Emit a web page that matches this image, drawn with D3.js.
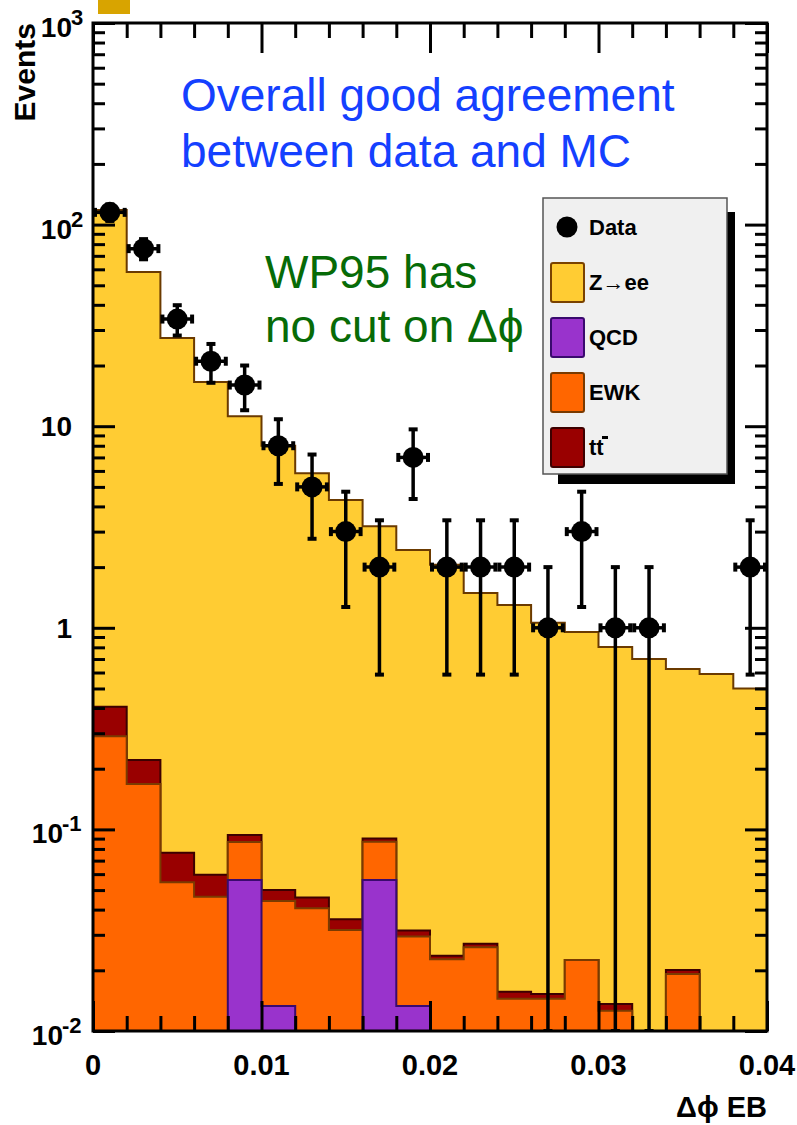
<!DOCTYPE html>
<html lang="en">
<head>
<meta charset="utf-8">
<title>Delta phi EB</title>
<script src="https://cdn.jsdelivr.net/npm/d3@7"></script>
<style>
  body { margin: 0; background: #fff; }
  svg text { font-family: "Liberation Sans", Arial, Helvetica, sans-serif; }
  .axis line { stroke: #000; stroke-width: 3px; }
  .axis path { display: none; }
  .lab { font-weight: bold; fill: #000; }
</style>
</head>
<body>
<script>
// bins of 0.002 from 0 to 0.04
var binWidth = 0.002;
var dataCounts = [115, 76, 34, 21, 16, 8, 5, 3, 2, 7, 2, 2, 2, 1, 3, 1, 1, 0, 0, 2];
var zee   = [117.6, 58, 27.3, 16.5, 11.1, 7.95, 5.8, 4.27, 3.1, 2.4, 2.03, 1.46, 1.28, 1.045, 0.93, 0.79, 0.70, 0.605, 0.59, 0.50];
var ttbar = [0.116, 0.053, 0.0219, 0.0133, 0.0072, 0.0059, 0.0054, 0.0041, 0.0031, 0.0021, 0.0009, 0.0011, 0.0012, 0.0008, 0, 0.001, 0, 0.0009, 0, 0];
var ewk   = [0.29, 0.168, 0.0547, 0.0463, 0.0305, 0.0308, 0.0406, 0.0317, 0.0308, 0.0161, 0.0227, 0.026, 0.01445, 0.01445, 0.0225, 0.0126, 0, 0.0192, 0, 0];
var qcd   = [0, 0, 0, 0, 0.0561, 0.0133, 0, 0, 0.0561, 0.0133, 0, 0, 0, 0, 0, 0, 0, 0, 0, 0];

var xMajor = [0, 0.01, 0.02, 0.03, 0.04];
var xLabels = ["0", "0.01", "0.02", "0.03", "0.04"];
var yMajor = [1e-2, 1e-1, 1, 10, 100, 1000];
var yLabels = [["10", "-2"], ["10", "-1"], ["1", ""], ["10", ""], ["10", "2"], ["10", "3"]];

var legendNames = ["Data", "Z\u2192ee", "QCD", "EWK", "tt"];
var legendFill = [null, "#ffcc33", "#9933cc", "#ff6600", "#990000"];
var legendLine = [null, "#7a4200", "#3a0a6e", "#7a3a00", "#3d0000"];

var W = 797, H = 1125;
var pLeft = 93, pRight = 767, pTop = 23, pBottom = 1031;

var svg = d3.select("body").append("svg").attr("width", W).attr("height", H);

var x = d3.scaleLinear().domain([0, 0.04]).range([pLeft, pRight]);
var y = d3.scaleLog().domain([0.01, 1000]).range([pBottom, pTop]);

svg.append("clipPath").attr("id", "plot")
  .append("rect").attr("x", pLeft).attr("y", pTop)
  .attr("width", pRight - pLeft).attr("height", pBottom - pTop);

// small stray box at the top
svg.append("rect").attr("x", 98).attr("y", 0).attr("width", 32).attr("height", 14).attr("fill", "#d8a400");

// cumulative stack: qcd, +ewk, +ttbar, +zee
var cQcd = qcd.slice();
var cEwk = cQcd.map(function(d, i) { return d + ewk[i]; });
var cTt = cEwk.map(function(d, i) { return d + ttbar[i]; });
var cZee = cTt.map(function(d, i) { return d + zee[i]; });

function stepPath(vals) {
  var p = "M" + x(0) + "," + (pBottom + 10);
  vals.forEach(function(v, i) {
    var yy = y(Math.max(v, 1e-5));
    p += "L" + x(i * binWidth) + "," + yy + "L" + x((i + 1) * binWidth) + "," + yy;
  });
  return p + "L" + x(0.04) + "," + (pBottom + 10) + "Z";
}

var stack = [
  {vals: cZee, fill: "#ffcc33", line: "#6b3a00"},
  {vals: cTt, fill: "#990000", line: "#3d0000"},
  {vals: cEwk, fill: "#ff6600", line: "#7a3a00"},
  {vals: cQcd, fill: "#9933cc", line: "#3a0a6e"}
];

var gPlot = svg.append("g").attr("clip-path", "url(#plot)");
gPlot.selectAll("path.h")
  .data(stack)
  .enter()
  .append("path")
  .attr("class", "h")
  .attr("d", function(d) { return stepPath(d.vals); })
  .attr("fill", function(d) { return d.fill; })
  .attr("stroke", function(d) { return d.line; })
  .attr("stroke-width", 2);

// data points with errors
var pts = dataCounts.map(function(n, i) { return {n: n, i: i}; })
  .filter(function(d) { return d.n > 0; });

var gData = gPlot.selectAll("g.pt").data(pts).enter().append("g").attr("class", "pt");
gData.each(function(d) {
  var g = d3.select(this);
  var cx = x((d.i + 0.5) * binWidth);
  var cy = y(d.n);
  var hi = y(d.n + Math.sqrt(d.n));
  var lo = d.n - Math.sqrt(d.n) > 0.01 ? y(d.n - Math.sqrt(d.n)) : pBottom;
  var x0 = x(d.i * binWidth), x1 = x((d.i + 1) * binWidth);
  g.append("line").attr("x1", cx).attr("x2", cx).attr("y1", hi).attr("y2", lo)
    .attr("stroke", "#000").attr("stroke-width", 3.5);
  g.append("line").attr("x1", x0 + 1).attr("x2", x1 - 1).attr("y1", cy).attr("y2", cy)
    .attr("stroke", "#000").attr("stroke-width", 3.5);
  [hi, lo].forEach(function(v) {
    g.append("line").attr("x1", cx - 4.5).attr("x2", cx + 4.5).attr("y1", v).attr("y2", v)
      .attr("stroke", "#000").attr("stroke-width", 4);
  });
  [x0 + 2, x1 - 2].forEach(function(v) {
    g.append("line").attr("x1", v).attr("x2", v).attr("y1", cy - 4.5).attr("y2", cy + 4.5)
      .attr("stroke", "#000").attr("stroke-width", 4);
  });
  g.append("circle").attr("cx", cx).attr("cy", cy).attr("r", 10.5).attr("fill", "#000");
});

// axes ticks (inside the frame on all four sides)
var xMinor = d3.range(0, 21).map(function(i) { return i * binWidth; })
  .filter(function(v) { return Math.abs(v / 0.01 - Math.round(v / 0.01)) > 1e-6; });
var yMinor = [];
[-2, -1, 0, 1, 2].forEach(function(k) {
  for (var m = 2; m <= 9; m++) yMinor.push(m * Math.pow(10, k));
});

function addAxis(gen, tr) {
  svg.append("g").attr("class", "axis").attr("transform", tr).call(gen)
    .selectAll("text").remove();
}
addAxis(d3.axisBottom(x).tickValues(xMajor).tickSize(-30), "translate(0," + pBottom + ")");
addAxis(d3.axisBottom(x).tickValues(xMinor).tickSize(-15), "translate(0," + pBottom + ")");
addAxis(d3.axisTop(x).tickValues(xMajor).tickSize(-30), "translate(0," + pTop + ")");
addAxis(d3.axisTop(x).tickValues(xMinor).tickSize(-15), "translate(0," + pTop + ")");
addAxis(d3.axisLeft(y).tickValues(yMajor).tickSize(-22), "translate(" + pLeft + ",0)");
addAxis(d3.axisLeft(y).tickValues(yMinor).tickSize(-12), "translate(" + pLeft + ",0)");
addAxis(d3.axisRight(y).tickValues(yMajor).tickSize(-22), "translate(" + pRight + ",0)");
addAxis(d3.axisRight(y).tickValues(yMinor).tickSize(-12), "translate(" + pRight + ",0)");

svg.append("rect").attr("x", pLeft).attr("y", pTop)
  .attr("width", pRight - pLeft).attr("height", pBottom - pTop)
  .attr("fill", "none").attr("stroke", "#000").attr("stroke-width", 3);

// x tick labels
svg.selectAll("text.xl").data(xMajor).enter().append("text")
  .attr("class", "lab xl")
  .attr("x", function(d) { return x(d); })
  .attr("y", 1075)
  .attr("text-anchor", "middle")
  .attr("font-size", "29px")
  .text(function(d, i) { return xLabels[i]; });

// y tick labels
yMajor.forEach(function(v, i) {
  var lab = yLabels[i];
  var t = svg.append("text").attr("class", "lab").attr("font-size", "28px");
  if (lab[1] === "") {
    t.attr("x", 72).attr("y", y(v) + 10).attr("text-anchor", "end").text(lab[0]);
  } else {
    t.attr("x", lab[1].length > 1 ? 63 : 72).attr("y", y(v) + 14).attr("text-anchor", "end").text(lab[0]);
    svg.append("text").attr("class", "lab").attr("font-size", "22px")
      .attr("x", lab[1].length > 1 ? 62 : 71).attr("y", y(v) + 2).text(lab[1]);
  }
});

// axis titles
svg.append("text").attr("class", "lab").attr("font-size", "29px")
  .attr("x", pRight).attr("y", 1117).attr("text-anchor", "end")
  .text("\u0394\u03d5 EB");
svg.append("text").attr("class", "lab").attr("font-size", "30px")
  .attr("transform", "translate(35," + pTop + ") rotate(-90)")
  .attr("text-anchor", "end")
  .text("Events");

// legend
var lx = 543, ly = 198, lw = 184, lh = 276;
svg.append("rect").attr("x", lx + 15).attr("y", ly + 14).attr("width", lw - 7).attr("height", lh - 4).attr("fill", "#000");
svg.append("rect").attr("x", lx).attr("y", ly).attr("width", lw).attr("height", lh)
  .attr("fill", "#f0f0f0").attr("stroke", "#555").attr("stroke-width", 1.5);
var rowY = [227, 282, 337, 392, 447];
legendNames.forEach(function(name, i) {
  if (i === 0) {
    svg.append("circle").attr("cx", 567).attr("cy", rowY[i]).attr("r", 10.5).attr("fill", "#000");
  } else {
    svg.append("rect").attr("x", 551).attr("y", rowY[i] - 19).attr("width", 33).attr("height", 39).attr("rx", 2)
      .attr("fill", legendFill[i]).attr("stroke", legendLine[i]).attr("stroke-width", 2);
  }
  svg.append("text").attr("class", "lab").attr("font-size", "22px")
    .attr("x", 589).attr("y", rowY[i] + 8).text(name);
});
// bar over the second t
svg.append("rect").attr("x", 602).attr("y", 436).attr("width", 6).attr("height", 3).attr("fill", "#000");

// annotations
var blue = svg.append("text").attr("font-size", "46px").attr("fill", "#1440ff");
blue.append("tspan").attr("x", 181).attr("y", 111).text("Overall good agreement");
blue.append("tspan").attr("x", 181).attr("y", 167).text("between data and MC");
var green = svg.append("text").attr("font-size", "46px").attr("fill", "#076b07");
green.append("tspan").attr("x", 265).attr("y", 288).text("WP95 has");
green.append("tspan").attr("x", 265).attr("y", 342).text("no cut on \u0394\u03d5");
</script>
</body>
</html>
